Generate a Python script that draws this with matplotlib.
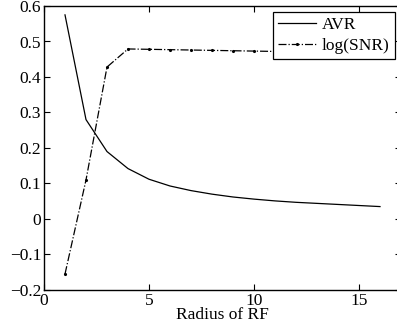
#!/usr/bin/env python3

import numpy as np
import matplotlib
matplotlib.use('Agg')
import matplotlib.pyplot as plt

# data
radius = [1, 2, 3, 4, 5, 6, 7, 8, 9, 10, 11, 12, 13, 14, 15, 16]
avr = [0.575, 0.28, 0.19, 0.142, 0.112, 0.093, 0.080, 0.070, 0.062, 0.056,
       0.051, 0.047, 0.044, 0.041, 0.038, 0.035]
log_snr = [-0.155, 0.11, 0.428, 0.479, 0.478, 0.477, 0.476, 0.475, 0.474, 0.473,
           0.472, 0.471, 0.470, 0.470, 0.469, 0.468]

plt.rcParams['font.family'] = ['Liberation Serif', 'DejaVu Serif']
plt.rcParams['font.size'] = 12.5

fig = plt.figure(figsize=(3.97, 3.35), dpi=100)
W, H = 397, 335
ax = fig.add_axes([44 / W, 1 - 290 / H, (401 - 44) / W, (290 - 6) / H])

ax.plot(radius, avr, color='k', lw=0.9, ls='-', label='AVR')
ax.plot(radius, log_snr, color='k', lw=0.9, ls='-.', marker='.', markersize=2.5,
        label='log(SNR)')

ax.set_xlim(0, 17)
ax.set_ylim(-0.2, 0.6)
ax.set_xticks([0, 5, 10, 15])
ax.set_yticks(np.arange(-0.2, 0.61, 0.1))
ax.set_yticklabels(['\u22120.2', '\u22120.1', '0', '0.1', '0.2', '0.3', '0.4', '0.5', '0.6'])
ax.tick_params(direction='in', top=True, right=True, length=4, width=0.8, pad=2)
for s in ax.spines.values():
    s.set_linewidth(1.0)
ax.set_xlabel('Radius of RF', labelpad=-1)

leg = ax.legend(loc='upper right', bbox_to_anchor=(395 / W, 1 - 12 / H),
                bbox_transform=fig.transFigure, frameon=True, fancybox=False,
                handlelength=2.2, borderpad=0.3, labelspacing=0.25,
                handletextpad=0.35, borderaxespad=0)
leg.get_frame().set_edgecolor('k')
leg.get_frame().set_linewidth(0.9)
leg.get_frame().set_alpha(1)

fig.savefig('out.png', dpi=100)
